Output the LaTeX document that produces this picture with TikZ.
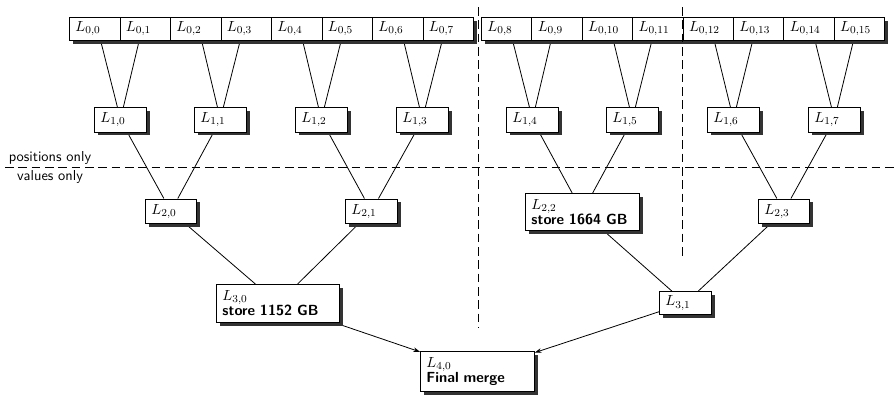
\documentclass[tikz,border=0pt]{standalone}
\usetikzlibrary{shadows,arrows.meta,calc,backgrounds}
\begin{document}
\begin{tikzpicture}[x=0.75pt,y=-0.75pt,
  bx/.style={draw=black, line width=0.6pt, fill=white, anchor=north west, align=left,
    inner xsep=4.5pt, inner ysep=1pt, font=\fontsize{11}{12.5}\selectfont,
    drop shadow={shadow xshift=2.4pt, shadow yshift=-2.4pt, fill=black!80, opacity=1}},
  top/.style={bx, text width=28.875pt, minimum height=17.25pt},
  mid/.style={bx, text width=30pt, minimum height=18.5pt},
  cn/.style={line width=0.6pt},
  arr/.style={line width=0.6pt, -{Stealth[length=5pt,width=3.5pt]}},
  dsh/.style={line width=0.6pt, dash pattern=on 6.5pt off 3.5pt},
  lab/.style={font=\fontsize{10.8}{12}\sffamily, inner sep=0pt}
]
\useasboundingbox (0,0) rectangle (895,394);

% level 0
\foreach \i in {0,...,7}
  \node[top] (L0-\i) at ({69+50.5*\i},17) {$L_{0,\i}$};
\foreach \i in {8,...,15}
  \node[top] (L0-\i) at ({481+50.4*(\i-8)},17) {$L_{0,\i}$};

% level 1
\foreach \i/\x in {0/94,1/194,2/295,3/396,4/506,5/606,6/707,7/808}
  \node[mid] (L1-\i) at (\x,107) {$L_{1,\i}$};

% level 2
\node[mid, text width=29.25pt] (L2-0) at (145,198.5) {$L_{2,0}$};
\node[mid] (L2-1) at (345,198.5) {$L_{2,1}$};
\node[bx, text width=76.5pt, minimum height=27.75pt] (L2-2) at (525,193)
  {$L_{2,2}$\\[-1pt]\sffamily\bfseries store 1664 GB};
\node[mid, text width=29.25pt] (L2-3) at (758,198.5) {$L_{2,3}$};

% level 3
\node[bx, text width=83.25pt, minimum height=28.5pt] (L3-0) at (216,284)
  {$L_{3,0}$\\[-1pt]\sffamily\bfseries store 1152 GB};
\node[mid, minimum height=17.5pt] (L3-1) at (659,291) {$L_{3,1}$};

% level 4
\node[bx, text width=76.5pt, minimum height=30pt] (L4-0) at (420,351)
  {$L_{4,0}$\\[-1pt]\sffamily\bfseries Final merge};

% labels
\node[lab] (pos) at (50,158) {positions only};
\node[lab] (val) at (50,177) {values only};

% connectors behind boxes
\begin{pgfonlayer}{background}
\foreach \k in {0,...,7} {
  \pgfmathtruncatemacro\a{2*\k}
  \pgfmathtruncatemacro\b{2*\k+1}
  \draw[cn] ($(L0-\a.south)+(6,0)$) -- ($(L1-\k.north)+(-3,0)$);
  \draw[cn] ($(L0-\b.south)+(-6,0)$) -- ($(L1-\k.north)+(3,0)$);
}
\foreach \k in {0,...,3} {
  \pgfmathtruncatemacro\a{2*\k}
  \pgfmathtruncatemacro\b{2*\k+1}
  \draw[cn] (L1-\a) -- (L2-\k);
  \draw[cn] (L1-\b) -- (L2-\k);
}
\draw[cn] (L2-0) -- (L3-0);
\draw[cn] (L2-1) -- (L3-0);
\draw[cn] (L2-2) -- (L3-1);
\draw[cn] (L2-3) -- (L3-1);
\draw[arr] (L3-0) -- (L4-0);
\draw[arr] (L3-1) -- (L4-0);
\end{pgfonlayer}

% dashed separators
\draw[dsh] (478.5,7) -- (478.5,328);
\draw[dsh] (682,7) -- (682,258);
\draw[dsh] (5,167) -- (895,167);
\end{tikzpicture}
\end{document}
